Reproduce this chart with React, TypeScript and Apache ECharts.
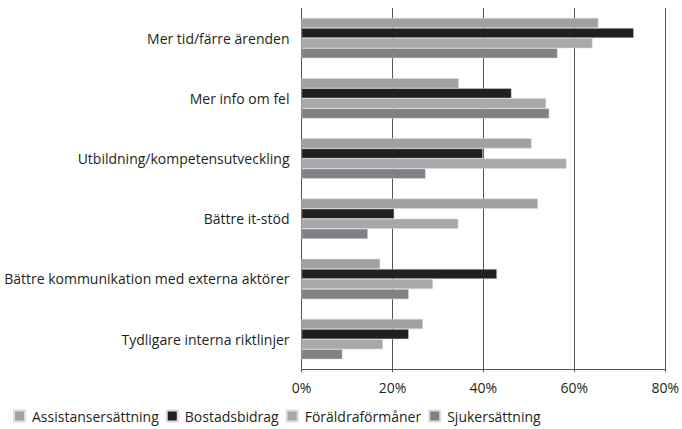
import React, { useEffect, useRef } from "react";
import * as echarts from "echarts";

const categories = [
  "Mer tid/färre ärenden",
  "Mer info om fel",
  "Utbildning/kompetensutveckling",
  "Bättre it-stöd",
  "Bättre kommunikation med externa aktörer",
  "Tydligare interna riktlinjer",
];

const seriesNames = ["Assistansersättning", "Bostadsbidrag", "Föräldraförmåner", "Sjukersättning"];

const assistans = [65.3, 34.6, 50.6, 52.0, 17.3, 26.7];
const bostad = [73.1, 46.2, 39.9, 20.4, 43.0, 23.6];
const foraldra = [64.0, 53.8, 58.3, 34.5, 28.9, 17.9];
const sjuk = [56.3, 54.5, 27.3, 14.6, 23.6, 9.0];

const xTicks = [0, 20, 40, 60, 80];

const colors = ["#a0a1a4", "#231f20", "#a7a8ab", "#808184"];

const FONT = "'Open Sans', 'Noto Sans', sans-serif";

export default function App() {
  const ref = useRef<HTMLDivElement>(null);
  useEffect(() => {
    if (!ref.current) return;
    const chart = echarts.init(ref.current, null, { renderer: "svg" });
    const values = [assistans, bostad, foraldra, sjuk];
    chart.setOption({
      animation: false,
      textStyle: { fontFamily: FONT },
      color: colors,
      grid: { left: 301.5, right: 14.7, top: 8, bottom: 59.7, containLabel: false },
      legend: {
        left: 8,
        bottom: 1,
        itemWidth: 11,
        itemHeight: 11,
        itemGap: 7,
        icon: "rect",
        data: seriesNames,
        textStyle: { fontFamily: FONT, fontSize: 14, color: "#231f20", padding: [0, 0, 0, 2] },
      },
      xAxis: {
        type: "value",
        min: xTicks[0],
        max: xTicks[xTicks.length - 1],
        interval: 20,
        axisLine: { show: true, lineStyle: { color: "#555", width: 1 } },
        axisTick: { show: true, length: 3, lineStyle: { color: "#555" } },
        splitLine: { show: true, lineStyle: { color: "#555", width: 1 } },
        axisLabel: {
          formatter: (v: number) => `${v}%`,
          fontFamily: FONT,
          fontSize: 14,
          color: "#231f20",
          margin: 11,
        },
      },
      yAxis: {
        type: "category",
        data: categories,
        inverse: true,
        axisLine: { show: false },
        axisTick: { show: false },
        axisLabel: { fontFamily: FONT, fontSize: 14, color: "#231f20", margin: 12 },
      },
      series: seriesNames.map((name, i) => ({
        name,
        type: "bar",
        data: values[i],
        barGap: "0%",
        barCategoryGap: "33%",
        itemStyle: { color: colors[i], borderColor: "#dcdcdc", borderWidth: 0.5 },
      })),
    });
    return () => chart.dispose();
  }, []);
  return <div ref={ref} style={{ width: 682, height: 429, position: "absolute", left: 0, top: 0 }} />;
}
